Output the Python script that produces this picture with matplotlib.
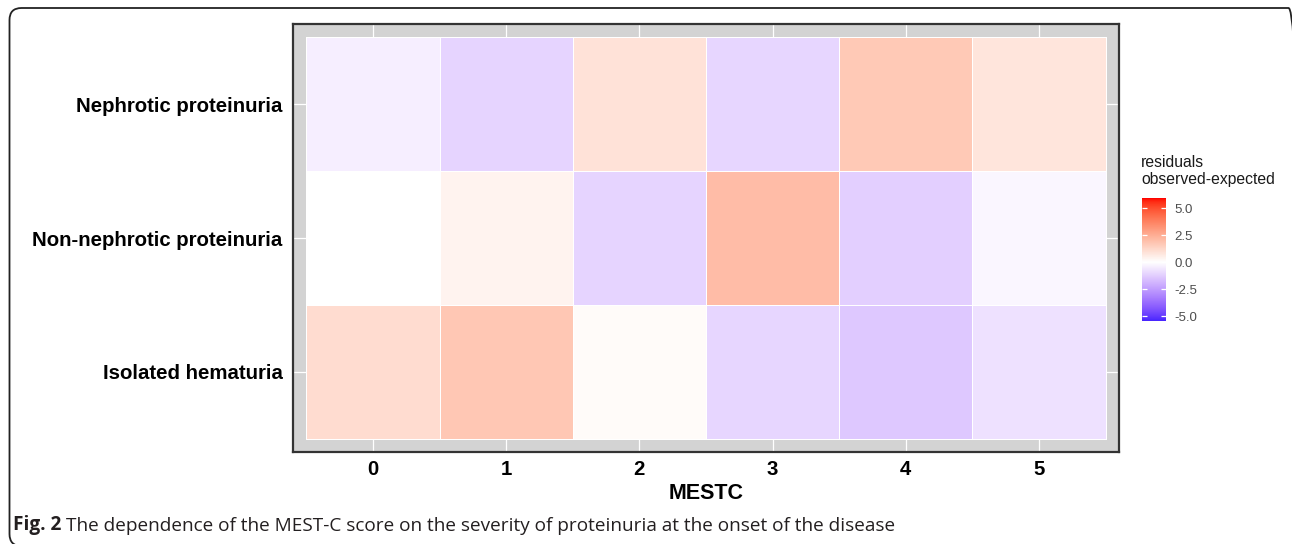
#!/usr/bin/env python3
"""MEST-C score vs proteinuria severity: residual heatmap (observed - expected)."""
import numpy as np
import matplotlib
matplotlib.use("Agg")
import matplotlib.pyplot as plt
from matplotlib.colors import ListedColormap, Normalize
from matplotlib.patches import FancyBboxPatch
from matplotlib.text import Annotation

GROUPS = ["Isolated hematuria", "Non-nephrotic proteinuria", "Nephrotic proteinuria"]
MESTC = [0, 1, 2, 3, 4, 5]
RES_ISOLATED = [1.1, 1.75, 0.15, -1.05, -1.4, -0.75]
RES_NONNEPHROTIC = [-0.03, 0.4, -1.1, 2.05, -1.25, -0.25]
RES_NEPHROTIC = [-0.45, -1.1, 0.9, -1.05, 1.7, 0.8]
LEGEND_TICKS = [-5.0, -2.5, 0.0, 2.5, 5.0]
LEGEND_RANGE = (-5.45, 5.93)

W, H = 1292, 544
SANS = "Liberation Sans"


def srgb_to_lab(rgb):
    rgb = np.asarray(rgb, float)
    lin = np.where(rgb <= 0.04045, rgb / 12.92, ((rgb + 0.055) / 1.055) ** 2.4)
    m = np.array([[0.4124, 0.3576, 0.1805], [0.2126, 0.7152, 0.0722], [0.0193, 0.1192, 0.9505]])
    xyz = lin @ m.T / np.array([0.95047, 1.0, 1.08883])
    f = np.where(xyz > 0.008856, np.cbrt(xyz), 7.787 * xyz + 16 / 116)
    return np.stack([116 * f[..., 1] - 16, 500 * (f[..., 0] - f[..., 1]), 200 * (f[..., 1] - f[..., 2])], -1)


def lab_to_srgb(lab):
    lab = np.asarray(lab, float)
    fy = (lab[..., 0] + 16) / 116
    fx = fy + lab[..., 1] / 500
    fz = fy - lab[..., 2] / 200
    f = np.stack([fx, fy, fz], -1)
    xyz = np.where(f > 0.206893, f ** 3, (f - 16 / 116) / 7.787) * np.array([0.95047, 1.0, 1.08883])
    m = np.array([[3.2406, -1.5372, -0.4986], [-0.9689, 1.8758, 0.0415], [0.0557, -0.2040, 1.0570]])
    lin = np.clip(xyz @ m.T, 0, 1)
    return np.clip(np.where(lin <= 0.0031308, 12.92 * lin, 1.055 * lin ** (1 / 2.4) - 0.055), 0, 1)


def diverging_lab(low="#0000FF", mid="#FFFFFF", high="#FF0000", n=256):
    conv = matplotlib.colors.to_rgb
    lo, mi, hi = (srgb_to_lab(conv(c)) for c in (low, mid, high))
    t = np.linspace(0, 1, n // 2)[:, None]
    left = lo + (mi - lo) * t
    right = mi + (hi - mi) * t
    return ListedColormap(lab_to_srgb(np.vstack([left, right])))


def main():
    cmap = diverging_lab()
    vlim = max(abs(LEGEND_RANGE[0]), abs(LEGEND_RANGE[1]))
    norm = Normalize(-vlim, vlim)

    fig = plt.figure(figsize=(W / 100, H / 100), dpi=100)

    # outer rounded frame of the journal figure
    frame = FancyBboxPatch((0.095, -0.02), 12.91, 5.38,
                           boxstyle="round,pad=0,rounding_size=0.12",
                           transform=fig.dpi_scale_trans, fill=False,
                           edgecolor="#222222", linewidth=1.3, clip_on=False)
    fig.add_artist(frame)

    ax = fig.add_axes([293 / W, 1 - 452 / H, 826 / W, 428 / H])
    ax.set_facecolor("#D3D3D3")
    data = np.array([RES_ISOLATED, RES_NONNEPHROTIC, RES_NEPHROTIC])
    xe = np.arange(len(MESTC) + 1) - 0.5
    ye = np.arange(len(GROUPS) + 1) - 0.5
    ax.pcolormesh(xe, ye, data, cmap=cmap, norm=norm, edgecolors="white", linewidth=0.5)
    ax.set_xlim(-0.6, 5.6)
    ax.set_ylim(-0.6, 2.6)
    ax.set_axisbelow(True)
    ax.grid(color="white", linewidth=0.9)
    ax.set_xticks(range(len(MESTC)))
    ax.set_xticklabels([str(m) for m in MESTC])
    ax.set_yticks(range(len(GROUPS)))
    ax.set_yticklabels(GROUPS)
    ax.tick_params(length=0, labelsize=14.7, colors="black")
    ax.tick_params(axis="y", pad=7.5)
    ax.tick_params(axis="x", pad=5.5)
    for lab in ax.get_xticklabels() + ax.get_yticklabels():
        lab.set_fontweight("bold")
        lab.set_family(SANS)
    for s in ax.spines.values():
        s.set_color("#333333")
        s.set_linewidth(1.6)
    ax.set_xlabel("MESTC", fontsize=15.5, fontweight="bold", family=SANS, labelpad=3)

    # colour bar legend
    cax = fig.add_axes([1142 / W, 1 - 321 / H, 24 / W, 123 / H])
    grad = np.linspace(LEGEND_RANGE[0], LEGEND_RANGE[1], 300)[:, None]
    cax.imshow(grad, cmap=cmap, norm=norm, origin="lower", aspect="auto",
               extent=[0, 1, LEGEND_RANGE[0], LEGEND_RANGE[1]])
    cax.hlines(LEGEND_TICKS, 0, 0.2, color="white", linewidth=0.9)
    cax.hlines(LEGEND_TICKS, 0.8, 1, color="white", linewidth=0.9)
    cax.set_xlim(0, 1)
    cax.set_ylim(*LEGEND_RANGE)
    cax.set_xticks([])
    cax.yaxis.tick_right()
    cax.set_yticks(LEGEND_TICKS)
    cax.set_yticklabels([f"{t:.1f}" for t in LEGEND_TICKS], family=SANS)
    cax.tick_params(length=0, labelsize=9.5, colors="#4D4D4D", pad=6)
    for s in cax.spines.values():
        s.set_visible(False)
    fig.text(1141 / W, 1 - 155 / H, "residuals\nobserved-expected", ha="left", va="top",
             fontsize=11.3, family=SANS, color="#1a1a1a", linespacing=1.2)

    # caption
    cap = fig.text(13 / W, 1 - 530 / H, "Fig. 2", fontsize=13.7, fontweight="bold",
                   family="Open Sans", color="#231f20", ha="left", va="baseline")
    fig.add_artist(Annotation(
        "The dependence of the MEST-C score on the severity of proteinuria at the onset of the disease",
        xy=(1, 0), xycoords=cap, xytext=(3.5, 0), textcoords="offset points",
        fontsize=13.7, family="Open Sans", color="#231f20", ha="left", va="bottom"))

    fig.savefig("out.png", dpi=100)


if __name__ == "__main__":
    main()
